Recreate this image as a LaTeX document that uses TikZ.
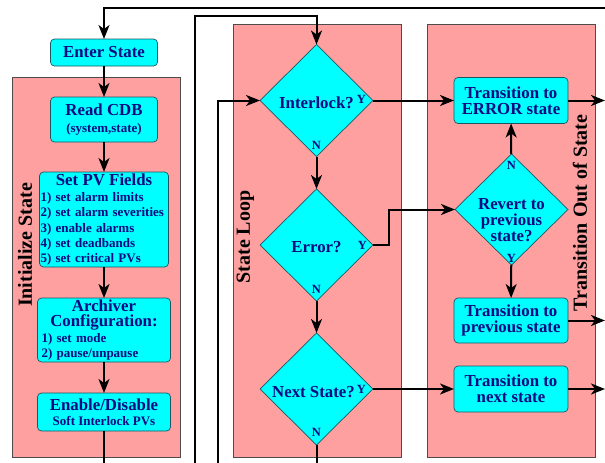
\documentclass[tikz,border=0pt]{standalone}
\usepackage{fontspec}
\setmainfont{Liberation Serif}
\usepackage{tikz}
\usetikzlibrary{shapes.geometric}
\usetikzlibrary{arrows.meta}

\definecolor{panelpink}{RGB}{255,160,160}
\definecolor{boxcyan}{RGB}{0,255,255}
\definecolor{boxtext}{RGB}{10,10,130}
\definecolor{boxedge}{RGB}{30,85,95}
\newcommand{\boxhead}{\fontsize{16.8}{15.3}\selectfont}
\newcommand{\boxsub}{\fontsize{13}{15.3}\selectfont}
\hyphenpenalty=10000

\begin{document}
\begin{tikzpicture}[x = 1pt, y = -1pt,
        flow/.style = {line width = 2pt, -{Stealth[length = 14pt, width = 11pt, inset = 4pt]}},
        wire/.style = {line width = 2pt},
        panel/.style = {draw = black!70, fill = panelpink, line width = 0.7pt, inner sep = 0pt, outer sep = 0pt},
        panel_label/.style = {rotate = 90, font = \fontsize{20}{22}\selectfont\bfseries},
        state_box/.style = {draw = boxedge, fill = boxcyan, rounded corners = 4pt, line width = 0.7pt,
            text = boxtext, align = center, inner sep = 0pt, outer sep = 0pt, font = \boxhead\bfseries},
        decision/.style = {diamond, draw = boxedge, fill = boxcyan, line width = 0.7pt, inner sep = 0pt,
            outer sep = 0pt, minimum width = 113pt, minimum height = 112pt},
        decision_text/.style = {text = boxtext, align = center, font = \fontsize{16.8}{16}\selectfont\bfseries},
        yn_label/.style = {text = boxtext, inner sep = 0pt, font = \fontsize{12.5}{12}\selectfont\bfseries}]
    \useasboundingbox (0,0) rectangle (605,463);

    % panels
    \node (init_panel) [panel, minimum width = 168pt, minimum height = 380pt] at (96,267) {};
    \node (loop_panel) [panel, minimum width = 168pt, minimum height = 433pt] at (317,240.5) {};
    \node (exit_panel) [panel, minimum width = 168pt, minimum height = 433pt] at (511,240.5) {};
    \node (init_label) [panel_label] at (25,245) {Initialize State};
    \node (loop_label) [panel_label] at (245.5,237) {State Loop};
    \node (exit_label) [panel_label] at (580,213) {Transition Out of State};

    % initialize state
    \node (enter_state) [state_box, minimum width = 107pt, minimum height = 27pt] at (104,52.5) {Enter State};
    \node (read_cdb) [state_box, minimum width = 107pt, minimum height = 45pt] at (104,119.5)
        {Read CDB\\[1pt]{\boxsub (system,state)}};
    \node (set_pv) [state_box, font = \boxsub\bfseries, text width = 127pt, align = left,
        minimum width = 129pt, minimum height = 95pt] at (104,219.5)
        {{\boxhead\hfill Set PV Fields\hfill\null}\\[1pt]
        1) set alarm limits\\
        2) set alarm severities\\
        3) enable alarms\\
        4) set deadbands\\
        5) set critical PVs};
    \node (archiver_cfg) [state_box, font = \boxsub\bfseries, text width = 125pt, align = left,
        minimum width = 133pt, minimum height = 64pt] at (104,330)
        {{\boxhead\hfill Archiver\hfill\null}\\
        {\boxhead\hfill Configuration:\hfill\null}\\
        1) set mode\\
        2) pause/unpause};
    \node (enable_pvs) [state_box, minimum width = 133pt, minimum height = 38pt] at (104,412)
        {Enable/Disable\\{\boxsub Soft Interlock PVs}};

    % state loop
    \node (interlock_diag) [decision, label = {[decision_text, yshift = -2pt]center:Interlock?}] at (316.5,100.5) {};
    \node (error_diag) [decision, label = {[decision_text, yshift = -2pt]center:Error?}] at (316.5,245) {};
    \node (next_diag) [decision, label = {[decision_text, xshift = -3pt, yshift = -3pt]center:Next State?}] at (316.5,389) {};

    % transition out of state
    \node (to_error) [state_box, minimum width = 114pt, minimum height = 46pt] at (511,100.5) {Transition to\\[1pt]ERROR state};
    \node (revert_diag) [decision, minimum height = 111pt,
        label = {[decision_text, yshift = -11pt]center:Revert to\\previous\\state?}] at (511.5,209.5) {};
    \node (to_previous) [state_box, minimum width = 114pt, minimum height = 45pt] at (511,320.5) {Transition to\\[1pt]previous state};
    \node (to_next) [state_box, minimum width = 114pt, minimum height = 46pt] at (511,389) {Transition to\\[1pt]next state};

    % Y / N marks
    \node (interlock_y) [yn_label, left = 7pt, yshift = 1pt] at (interlock_diag.east) {Y};
    \node (interlock_n) [yn_label, above = 7pt] at (interlock_diag.south) {N};
    \node (error_y) [yn_label, left = 6pt] at (error_diag.east) {Y};
    \node (error_n) [yn_label, above = 7pt] at (error_diag.south) {N};
    \node (next_y) [yn_label, left = 7pt] at (next_diag.east) {Y};
    \node (next_n) [yn_label, above = 8pt] at (next_diag.south) {N};
    \node (revert_n) [yn_label, below = 7pt] at (revert_diag.north) {N};
    \node (revert_y) [yn_label, above = 2pt] at (revert_diag.south) {Y};

    % free ends
    \coordinate (top_in) at (605,8);
    \coordinate (loop_in) at (195,463);
    \coordinate (retry_in) at (218,463);
    \coordinate (init_out) at (104,463);
    \coordinate (loop_out) at (316.5,463);
    \coordinate (error_out) at (605,100.5);
    \coordinate (previous_out) at (605,320.5);
    \coordinate (next_out) at (605,389);

    % connectors
    \draw[flow] (top_in) -| (enter_state);
    \path (enter_state) edge[flow] (read_cdb);
    \path (read_cdb) edge[flow] (set_pv);
    \path (set_pv) edge[flow] (archiver_cfg);
    \path (archiver_cfg) edge[flow] (enable_pvs);
    \draw[wire] (enable_pvs) -- (init_out);

    \draw[flow] (loop_in) -- ++(0,-447) -| (interlock_diag);
    \draw[flow] (retry_in) |- (interlock_diag);
    \path (interlock_diag) edge[flow] (error_diag);
    \path (error_diag) edge[flow] (next_diag);
    \draw[wire] (next_diag) -- (loop_out);

    \path (interlock_diag) edge[flow] (to_error);
    \draw[flow] (error_diag.east) -- ++(16,0) |- (revert_diag);
    \path (next_diag) edge[flow] (to_next);
    \path (revert_diag) edge[flow] (to_error);
    \path (revert_diag) edge[flow] (to_previous);

    \draw[flow] (to_error) -- (error_out);
    \draw[flow] (to_previous) -- (previous_out);
    \draw[flow] (to_next) -- (next_out);
\end{tikzpicture}
\end{document}
